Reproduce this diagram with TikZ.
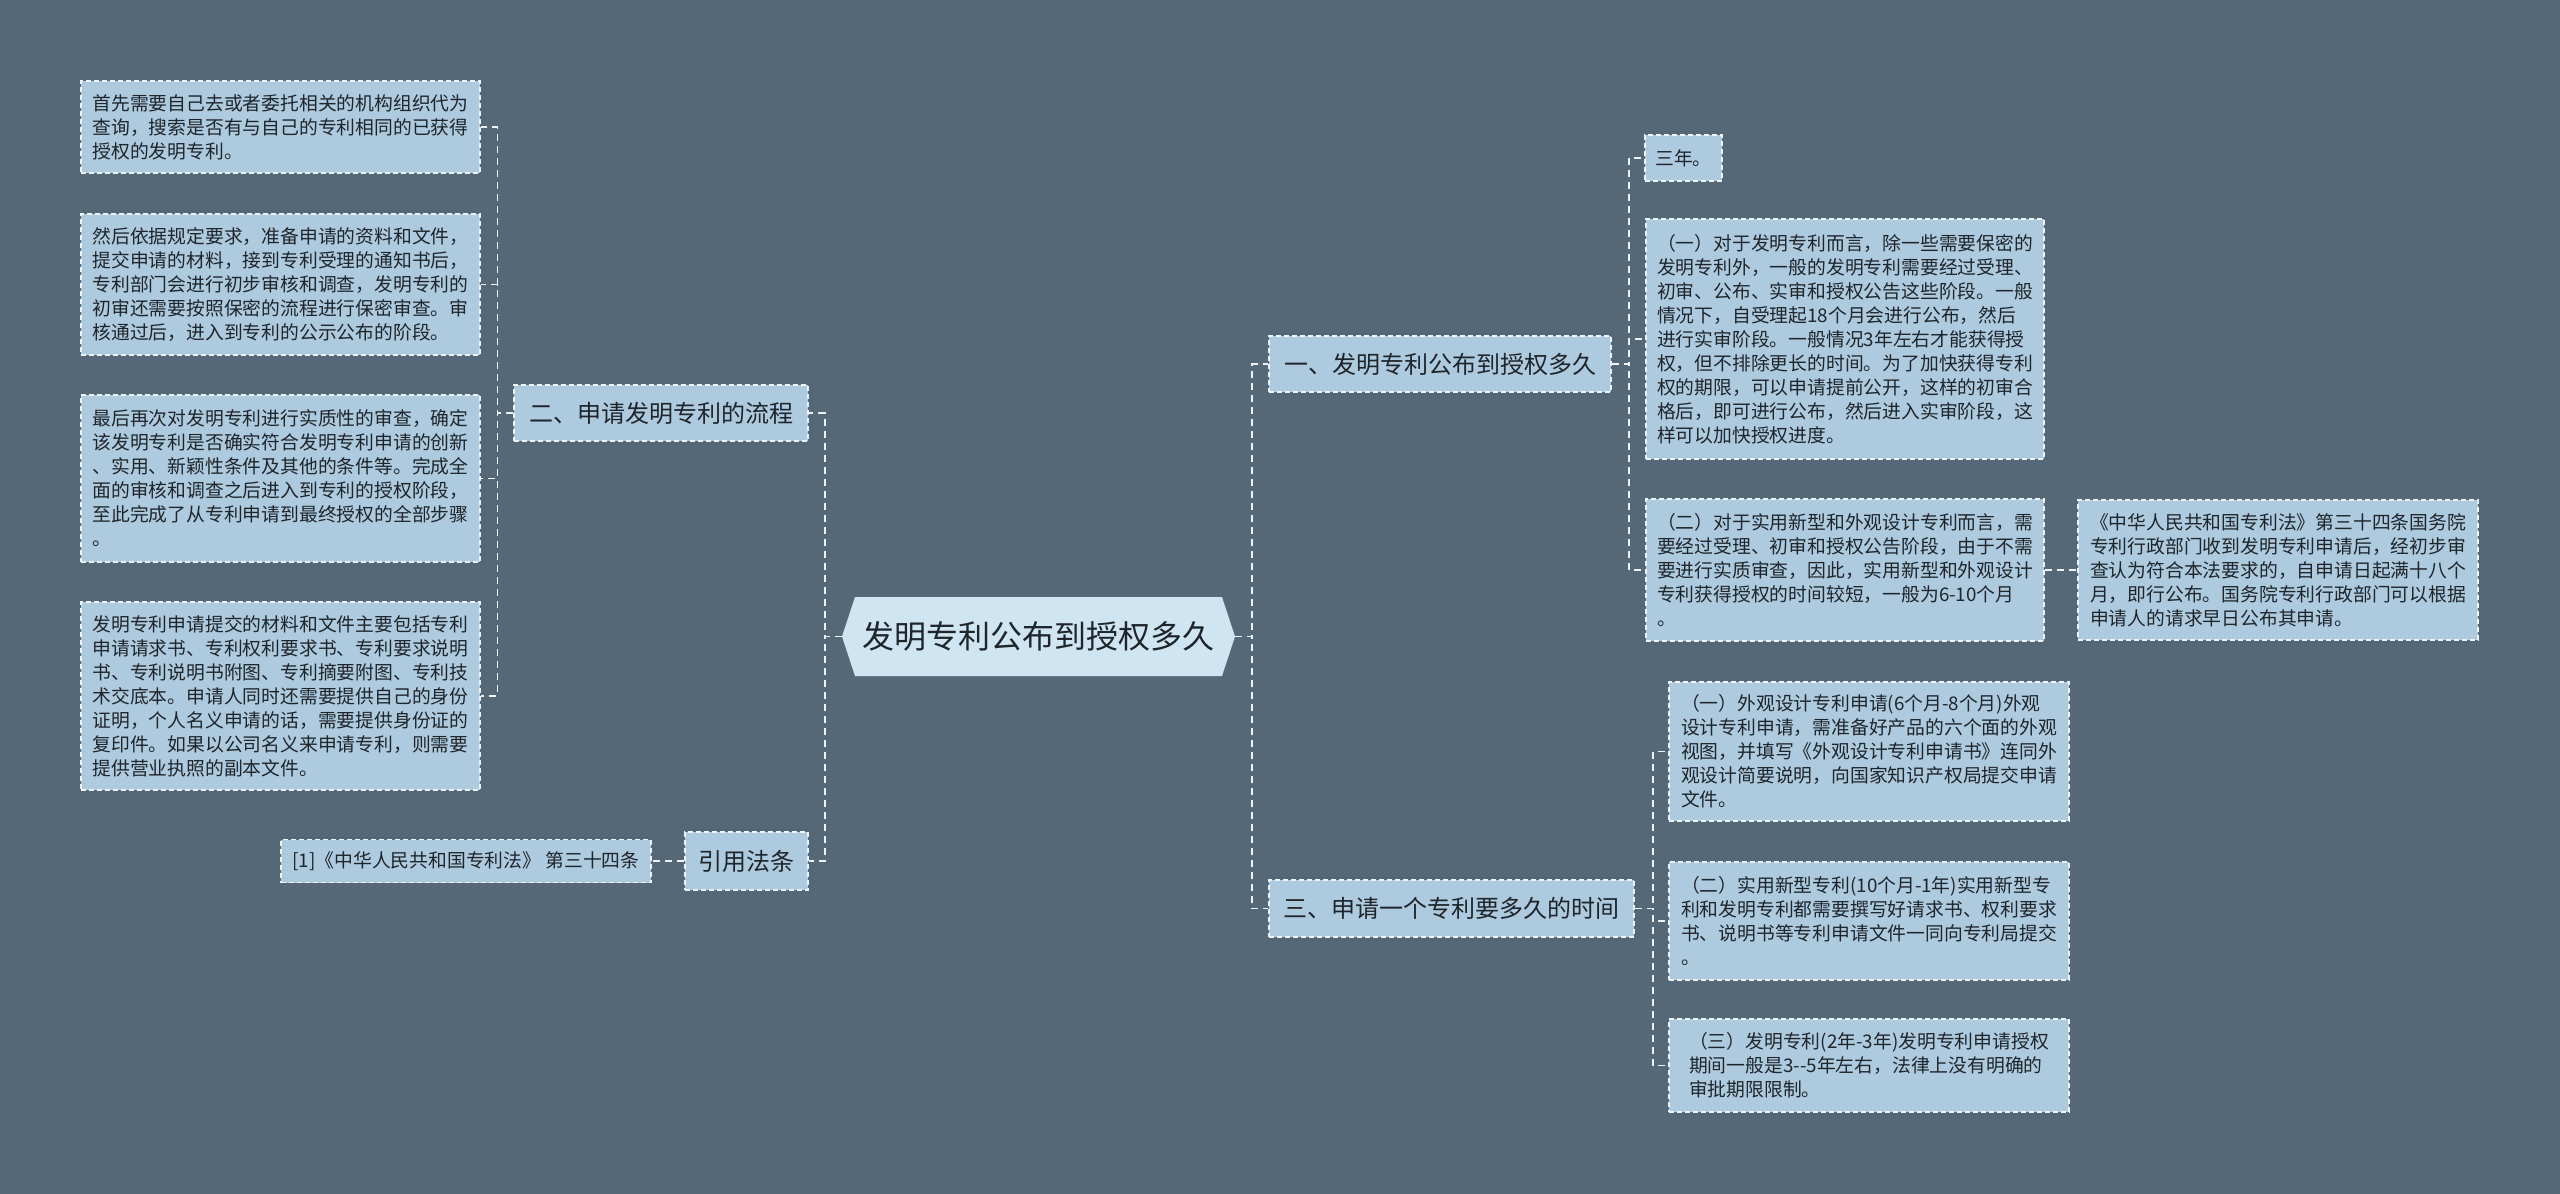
\documentclass[tikz,border=0pt]{standalone}
\usepackage{fontspec}
\setmainfont{Noto Sans CJK SC}
\definecolor{bgc}{HTML}{546878}
\definecolor{boxc}{HTML}{AECADF}
\definecolor{rootc}{HTML}{CFE5F2}
\definecolor{txtc}{HTML}{1E252B}
\definecolor{linec}{HTML}{EEF3F7}
\tikzset{
  leaf/.style={rectangle, fill=boxc, draw=linec, line width=1.2pt, dash pattern=on 5pt off 3pt,
    text=txtc, align=left, inner xsep=10pt, inner ysep=8pt,
    font=\fontsize{18.8pt}{24pt}\selectfont},
  branch/.style={leaf, font=\fontsize{24pt}{30pt}\selectfont},
  rootbox/.style={rectangle, text=txtc, minimum width=393pt, minimum height=79pt,
    font=\fontsize{32pt}{38pt}\selectfont,
    path picture={\fill[rootc] (path picture bounding box.west) -- ([xshift=13pt]path picture bounding box.north west) -- ([xshift=-13pt]path picture bounding box.north east) -- (path picture bounding box.east) -- ([xshift=-13pt]path picture bounding box.south east) -- ([xshift=13pt]path picture bounding box.south west) -- cycle;}},
  conn/.style={draw=linec, line width=1.8pt, dash pattern=on 7pt off 5pt}
}
\begin{document}
\begin{tikzpicture}[x=1pt,y=-1pt]
\useasboundingbox (0,0) rectangle (2560,1194);
\fill[bgc] (0,0) rectangle (2560,1194);

% root
\node[rootbox] (root) at (1038.5,636.5) {发明专利公布到授权多久};

% left side
\node[branch, minimum width=294pt, minimum height=56pt] (two) at (661,413) {二、申请发明专利的流程};
\node[branch, minimum width=123pt, minimum height=58pt] (cite) at (746.5,861) {引用法条};
\node[leaf, minimum width=370pt, minimum height=43pt] (ref) at (466,861) {[1]《中华人民共和国专利法》 第三十四条};

\node[leaf, minimum width=399pt, minimum height=92pt] (l1) at (280.5,127) {首先需要自己去或者委托相关的机构组织代为\\查询，搜索是否有与自己的专利相同的已获得\\授权的发明专利。};
\node[leaf, minimum width=399pt, minimum height=141pt] (l2) at (280.5,284.5) {然后依据规定要求，准备申请的资料和文件，\\提交申请的材料，接到专利受理的通知书后，\\专利部门会进行初步审核和调查，发明专利的\\初审还需要按照保密的流程进行保密审查。审\\核通过后，进入到专利的公示公布的阶段。};
\node[leaf, minimum width=399pt, minimum height=167pt] (l3) at (280.5,478.5) {最后再次对发明专利进行实质性的审查，确定\\该发明专利是否确实符合发明专利申请的创新\\、实用、新颖性条件及其他的条件等。完成全\\面的审核和调查之后进入到专利的授权阶段，\\至此完成了从专利申请到最终授权的全部步骤\\。};
\node[leaf, minimum width=399pt, minimum height=188pt] (l4) at (280.5,696) {发明专利申请提交的材料和文件主要包括专利\\申请请求书、专利权利要求书、专利要求说明\\书、专利说明书附图、专利摘要附图、专利技\\术交底本。申请人同时还需要提供自己的身份\\证明，个人名义申请的话，需要提供身份证的\\复印件。如果以公司名义来申请专利，则需要\\提供营业执照的副本文件。};

% right side
\node[branch, minimum width=342pt, minimum height=56pt] (one) at (1440,364) {一、发明专利公布到授权多久};
\node[branch, minimum width=365pt, minimum height=57pt] (three) at (1451.5,908.5) {三、申请一个专利要多久的时间};

\node[leaf, minimum width=77pt, minimum height=46pt] (sn) at (1683.5,158) {三年。};
\node[leaf, minimum width=398pt, minimum height=240pt] (r1) at (1845,339) {（一）对于发明专利而言，除一些需要保密的\\发明专利外，一般的发明专利需要经过受理、\\初审、公布、实审和授权公告这些阶段。一般\\情况下，自受理起18个月会进行公布，然后\\进行实审阶段。一般情况3年左右才能获得授\\权，但不排除更长的时间。为了加快获得专利\\权的期限，可以申请提前公开，这样的初审合\\格后，即可进行公布，然后进入实审阶段，这\\样可以加快授权进度。};
\node[leaf, minimum width=398pt, minimum height=142pt] (r2) at (1845,570) {（二）对于实用新型和外观设计专利而言，需\\要经过受理、初审和授权公告阶段，由于不需\\要进行实质审查，因此，实用新型和外观设计\\专利获得授权的时间较短，一般为6-10个月\\。};
\node[leaf, minimum width=400pt, minimum height=140pt] (r2b) at (2278,570) {《中华人民共和国专利法》第三十四条国务院\\专利行政部门收到发明专利申请后，经初步审\\查认为符合本法要求的，自申请日起满十八个\\月，即行公布。国务院专利行政部门可以根据\\申请人的请求早日公布其申请。};

\node[leaf, minimum width=400pt, minimum height=139pt] (s1) at (1869,751.5) {（一）外观设计专利申请(6个月-8个月)外观\\设计专利申请，需准备好产品的六个面的外观\\视图，并填写《外观设计专利申请书》连同外\\观设计简要说明，向国家知识产权局提交申请\\文件。};
\node[leaf, minimum width=400pt, minimum height=118pt] (s2) at (1869,921) {（二）实用新型专利(10个月-1年)实用新型专\\利和发明专利都需要撰写好请求书、权利要求\\书、说明书等专利申请文件一同向专利局提交\\。};
\node[leaf, minimum width=400pt, minimum height=93pt] (s3) at (1869,1065.5) {（三）发明专利(2年-3年)发明专利申请授权\\期间一般是3-{}-5年左右，法律上没有明确的\\审批期限限制。};

% connectors
\draw[conn] (root.west) -- ++(-17,0) |- (two.east);
\draw[conn] (root.west) -- ++(-17,0) |- (cite.east);
\draw[conn] (cite.west) -- (ref.east);
\foreach \n in {l1,l2,l3,l4} \draw[conn] (two.west) -- ++(-16,0) |- (\n.east);
\draw[conn] (root.east) -- ++(17,0) |- (one.west);
\draw[conn] (root.east) -- ++(17,0) |- (three.west);
\foreach \n in {sn,r1,r2} \draw[conn] (one.east) -- ++(17,0) |- (\n.west);
\draw[conn] (r2.east) -- (r2b.west);
\foreach \n in {s1,s2,s3} \draw[conn] (three.east) -- ++(18,0) |- (\n.west);
\end{tikzpicture}
\end{document}
